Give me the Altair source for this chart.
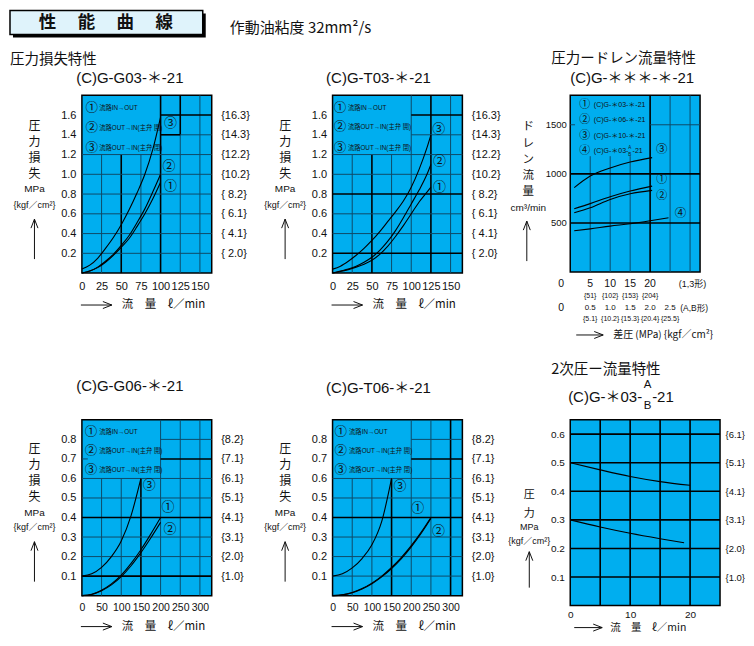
import altair as alt
import pandas as pd

FONT = "Liberation Sans, Noto Sans CJK JP, sans-serif"
JFONT = "Noto Sans CJK JP, Liberation Sans, sans-serif"
BLUE = "#00AEEF"
THIN = "#0e4a68"
BOLD = "#000000"
INK = "#111111"

# ---------------- data ----------------
GG03_Q = [0, 10, 20, 30, 40, 50, 60, 70, 80, 90, 100]
GG03_P1 = [0.0, 0.02, 0.055, 0.11, 0.18, 0.26, 0.35, 0.47, 0.60, 0.75, 0.92]
GG03_P2 = [0.0, 0.02, 0.06, 0.12, 0.19, 0.28, 0.38, 0.51, 0.65, 0.82, 1.00]
GG03_P3 = [0.04, 0.08, 0.15, 0.25, 0.36, 0.49, 0.64, 0.81, 1.00, 1.25, 1.58]

GT03_Q = [0, 10, 20, 30, 40, 50, 60, 70, 80, 90, 100, 110, 120, 125]
GT03_P1 = [0.0, 0.015, 0.035, 0.06, 0.09, 0.13, 0.19, 0.27, 0.37, 0.48, 0.60, 0.72, 0.82, 0.87]
GT03_P2 = [0.0, 0.02, 0.04, 0.07, 0.11, 0.16, 0.23, 0.32, 0.43, 0.56, 0.70, 0.84, 1.00, 1.10]
GT03_P3 = [0.04, 0.07, 0.12, 0.18, 0.25, 0.33, 0.42, 0.52, 0.62, 0.73, 0.87, 1.05, 1.27, 1.40]

DRAIN_DP = [1, 5, 10, 15, 20.5]
DRAIN_1 = [645, 697, 767, 825, 875]
DRAIN_2 = [605, 655, 740, 797, 832]
DRAIN_3 = [860, 978, 1060, 1120, 1165]
DRAIN_4_DP = [1, 5, 10, 15, 20, 24.6]
DRAIN_4 = [420, 440, 468, 492, 522, 553]

GG06_Q3 = [0, 25, 50, 75, 100, 125, 150]
GG06_P3 = [0.10, 0.112, 0.145, 0.20, 0.28, 0.41, 0.60]
GG06_Q = [0, 25, 50, 75, 100, 125, 150, 175, 200]
GG06_P1 = [0.0, 0.007, 0.028, 0.06, 0.105, 0.165, 0.235, 0.315, 0.40]
GG06_P2 = [0.0, 0.006, 0.025, 0.055, 0.097, 0.153, 0.22, 0.295, 0.375]

GT06_Q3 = [0, 25, 50, 75, 100, 125, 150]
GT06_P3 = [0.10, 0.112, 0.142, 0.19, 0.26, 0.38, 0.60]
GT06_Q = [0, 25, 50, 75, 100, 125, 150, 175, 200, 225, 250]
GT06_P1 = [0.0, 0.004, 0.016, 0.036, 0.064, 0.10, 0.144, 0.196, 0.256, 0.324, 0.40]
GT06_P2 = [0.0, 0.004, 0.015, 0.034, 0.061, 0.096, 0.139, 0.19, 0.25, 0.318, 0.395]

SEC_Q_HI = [0, 5, 10, 15, 20]
SEC_P_HI = [0.50, 0.475, 0.452, 0.434, 0.421]
SEC_Q_LO = [0, 5, 10, 15, 19]
SEC_P_LO = [0.30, 0.275, 0.253, 0.234, 0.22]

# tick labels
LOSS03_X = [0, 25, 50, 75, 100, 125, 150]
LOSS03_Y = [0.2, 0.4, 0.6, 0.8, 1.0, 1.2, 1.4, 1.6]
LOSS03_KGF = ["{ 2.0}", "{ 4.1}", "{ 6.1}", "{ 8.2}", "{10.2}", "{12.2}", "{14.3}", "{16.3}"]
LOSS06_X = [0, 50, 100, 150, 200, 250, 300]
LOSS06_Y = [0.1, 0.2, 0.3, 0.4, 0.5, 0.6, 0.7, 0.8]
LOSS06_KGF = ["{1.0}", "{2.0}", "{3.1}", "{4.1}", "{5.1}", "{6.1}", "{7.1}", "{8.2}"]
DRAIN_Y = [500, 1000, 1500]
DRAIN_ROW1_X = [5, 10, 15, 20]
DRAIN_ROW1 = ["5", "10", "15", "20"]
DRAIN_ROW2 = ["{51}", "{102}", "{153}", "{204}"]
DRAIN_ROW3_X = [5, 10, 15, 20, 25]
DRAIN_ROW3 = ["0.5", "1.0", "1.5", "2.0", "2.5"]
DRAIN_ROW4 = ["{5.1}", "{10.2}", "{15.3}", "{20.4}", "{25.5}"]
SEC_X = [0, 10, 20]
SEC_Y = [0.1, 0.2, 0.3, 0.4, 0.5, 0.6]
SEC_KGF = ["{1.0}", "{2.0}", "{3.1}", "{4.1}", "{5.1}", "{6.1}"]

LOSS_LEGEND = ["流路IN→OUT", "流路OUT→IN(主弁 開)", "流路OUT→IN(主弁 閉)"]
DRAIN_LEGEND = ["(C)G-＊03-＊-21", "(C)G-＊06-＊-21", "(C)G-＊10-＊-21", "(C)G-＊03-"]
CIRCLED = ["①", "②", "③", "④"]

ONE = pd.DataFrame({"k": [0]})
NB6 = "\u00a0" * 6


# ---------------- helpers ----------------
def dtext(s, x, y, size, align="center", weight="normal", font=FONT):
    return alt.Chart(ONE).mark_text(
        align=align, baseline="middle", fontSize=size, font=font,
        fontWeight=weight, color=INK
    ).encode(x=alt.value(x), y=alt.value(y), text=alt.value(s))


def seg(x0, y0, x1, y1, w=1.0):
    return alt.Chart(ONE).mark_rule(color=INK, strokeWidth=w).encode(
        x=alt.value(x0), y=alt.value(y0), x2=alt.value(x1), y2=alt.value(y1)
    )


def harrow(x0, x1, y):
    return [seg(x0, y, x1, y), seg(x1 - 9, y - 3.5, x1, y), seg(x1 - 9, y + 3.5, x1, y)]


def varrow(x, y0, y1):
    return [seg(x, y0, x, y1), seg(x - 3.5, y0 + 9, x, y0), seg(x + 3.5, y0 + 9, x, y0)]


def grid_df(rows):
    return pd.DataFrame([
        {"v": v, "a": a, "b": b, "col": BOLD if k else THIN, "sw": 1.6 if k else 1.0}
        for v, a, b, k in rows
    ])


def curves_df(series):
    rows = []
    for name, qs, ps in series:
        for q, p in zip(qs, ps):
            rows.append({"c": name, "q": q, "p": p})
    return pd.DataFrame(rows)


def zero_x_axis(values, size, pad):
    return alt.Axis(
        values=values, title=None, ticks=False, domain=False, grid=False,
        labelPadding=pad, labelFont=FONT, labelFontSize=size, labelColor=INK,
        labelFlush=False, labelOverlap=False, labelAlign="center",
        labelExpr="datum.value == 0 ? '0" + NB6 + "' : datum.label",
    )


def left_y_axis(values, size, pad, fmt):
    return alt.Axis(
        values=values, title=None, ticks=False, domain=False, grid=False, format=fmt,
        labelPadding=pad, labelFont=FONT, labelFontSize=size, labelColor=INK, labelOverlap=False,
    )


def right_y_axis(values, labels, step, size, pad):
    arr = "[" + ",".join("'" + s + "'" for s in labels) + "]"
    return alt.Axis(
        orient="right", values=values, title=None, ticks=False, domain=False, grid=False,
        labelPadding=pad, labelFont=FONT, labelFontSize=size, labelColor=INK, labelAlign="left",
        labelOverlap=False,
        labelExpr=arr + "[round(datum.value / " + str(step) + ") - 1]",
    )


def make_panel(w, h, xdom, ydom, series, vgrid, hgrid, xaxis, yaxis, raxis,
               circ=None, legend=None, extra=None):
    xs = alt.Scale(domain=xdom, nice=False, zero=False)
    ys = alt.Scale(domain=ydom, nice=False, zero=False)
    layers = [
        alt.Chart(grid_df(vgrid)).mark_rule().encode(
            x=alt.X("v:Q", scale=xs, axis=None),
            y=alt.Y("a:Q", scale=ys, axis=None), y2=alt.Y2("b"),
            color=alt.Color("col:N", scale=None),
            strokeWidth=alt.StrokeWidth("sw:Q", scale=None)),
        alt.Chart(grid_df(hgrid)).mark_rule().encode(
            y=alt.Y("v:Q", scale=ys, axis=raxis),
            x=alt.X("a:Q", scale=xs, axis=None), x2=alt.X2("b"),
            color=alt.Color("col:N", scale=None),
            strokeWidth=alt.StrokeWidth("sw:Q", scale=None)),
        alt.Chart(curves_df(series)).mark_line(
            color="black", strokeWidth=1.1, interpolate="monotone").encode(
            x=alt.X("q:Q", scale=xs, axis=xaxis),
            y=alt.Y("p:Q", scale=ys, axis=yaxis), detail="c:N"),
    ]
    if circ is not None:
        layers.append(alt.Chart(circ).mark_text(
            align="center", baseline="middle", font=JFONT, color=INK).encode(
            x=alt.X("x:Q", scale=xs, axis=None), y=alt.Y("y:Q", scale=ys, axis=None),
            text="t:N", size=alt.Size("s:Q", scale=None)))
    if legend is not None:
        layers.append(alt.Chart(legend).mark_text(
            align="left", baseline="middle", font=FONT, color=INK).encode(
            x=alt.X("x:Q", scale=xs, axis=None), y=alt.Y("y:Q", scale=ys, axis=None),
            text="t:N", size=alt.Size("s:Q", scale=None)))
    if extra:
        for e in extra:
            layers.append(e(xs, ys))
    return layers, (w, h)


def finish(layers, wh, decor):
    w, h = wh
    return alt.layer(*(layers + decor)).resolve_axis(
        x="independent", y="independent").properties(
        width=w, height=h,
        view=alt.ViewBackground(fill=BLUE, stroke="black", strokeWidth=1.5))


def label_frames(circ_pts, leg_pts, leg_size):
    c = pd.DataFrame([{"x": x, "y": y, "t": t, "s": s} for x, y, t, s in circ_pts])
    l = pd.DataFrame([{"x": x, "y": y, "t": t, "s": leg_size} for x, y, t in leg_pts])
    return c, l


def loss_decor(title, tx, ty, ys, ay, h, xdy):
    d = [dtext(title, tx, ty, 15)]
    for ch, y in zip("圧力損失", ys[:4]):
        d.append(dtext(ch, -47.5, y, 12, font=JFONT))
    d.append(dtext("MPa", -47.5, ys[4], 10))
    d.append(dtext("{kgf／cm²}", -47.5, ys[5], 9))
    d += varrow(-47.5, ay, ay + 40)
    d += harrow(-1, 30, h + xdy)
    d.append(dtext("流　量　ℓ／min", 40, h + xdy, 11.5, align="left", font=JFONT))
    return d


# ---------------- panel A : (C)G-G03 ----------------
A_v = [(25, 0, 1.2, 0), (50, 0, 1.2, 1), (75, 0, 1.2, 0), (100, 0, 1.8, 1),
       (125, 0, 1.4, 0), (125, 1.4, 1.8, 1), (150, 0, 1.8, 0)]
A_h = [(0.2, 0, 165, 0), (0.4, 0, 165, 0), (0.6, 0, 165, 0), (0.8, 0, 165, 0),
       (1.0, 0, 165, 0), (1.2, 0, 165, 0), (1.4, 100, 125, 1), (1.4, 125, 165, 0),
       (1.6, 100, 165, 1)]
cA, lA = label_frames(
    [(12.5, 1.67, CIRCLED[0], 12.5), (12.5, 1.47, CIRCLED[1], 12.5), (12.5, 1.265, CIRCLED[2], 12.5),
     (112.7, 1.515, CIRCLED[2], 13), (110.7, 1.087, CIRCLED[1], 13), (112.7, 0.88, CIRCLED[0], 13)],
    [(22, 1.67, LOSS_LEGEND[0]), (22, 1.47, LOSS_LEGEND[1]), (22, 1.265, LOSS_LEGEND[2])], 6.3)
layA, whA = make_panel(
    130, 178, [0, 165], [0, 1.8],
    [("1", GG03_Q, GG03_P1), ("2", GG03_Q, GG03_P2), ("3", GG03_Q, GG03_P3)],
    A_v, A_h, zero_x_axis(LOSS03_X, 11, 7), left_y_axis(LOSS03_Y, 11, 6, ".1f"),
    right_y_axis(LOSS03_Y, LOSS03_KGF, 0.2, 11, 9), cA, lA)
decA = [
    alt.Chart(ONE).mark_rect(color="black").encode(
        x=alt.value(-69), x2=alt.value(124), y=alt.value(-82), y2=alt.value(-58)),
    alt.Chart(ONE).mark_rect(fill="#dff3fb", stroke="black", strokeWidth=1.5).encode(
        x=alt.value(-72), x2=alt.value(121), y=alt.value(-85), y2=alt.value(-61)),
    dtext("性　 能　 曲　 線", 24, -72.5, 17.5, weight="bold", font=JFONT),
    dtext("作動油粘度 32mm²/s", 148, -67, 15, align="left", font=JFONT),
    dtext("圧力損失特性", -72, -35, 14.5, align="left", font=JFONT),
] + loss_decor("(C)G-G03-＊-21", 48, -17, [31, 47, 63, 79, 94, 110], 124, 178, 32)
A = finish(layA, whA, decA)

# ---------------- panel B : (C)G-T03 ----------------
B_v = [(25, 0, 1.2, 0), (50, 0, 1.2, 1), (75, 0, 1.2, 0), (100, 0, 1.8, 0),
       (125, 0, 1.8, 1), (150, 0, 1.8, 0)]
B_h = [(0.2, 0, 165, 1), (0.4, 0, 165, 0), (0.6, 0, 165, 0), (0.8, 0, 165, 1),
       (1.0, 0, 165, 0), (1.2, 0, 165, 0), (1.4, 100, 165, 0), (1.6, 100, 165, 1)]
cB, lB = label_frames(
    [(9.5, 1.67, CIRCLED[0], 12.5), (9.5, 1.48, CIRCLED[1], 12.5), (9.5, 1.27, CIRCLED[2], 12.5),
     (135, 1.46, CIRCLED[2], 13), (136, 1.13, CIRCLED[1], 13), (136, 0.875, CIRCLED[0], 13)],
    [(19.5, 1.67, LOSS_LEGEND[0]), (19.5, 1.48, LOSS_LEGEND[1]), (19.5, 1.27, LOSS_LEGEND[2])], 6.3)
layB, whB = make_panel(
    130, 178, [0, 165], [0, 1.8],
    [("1", GT03_Q, GT03_P1), ("2", GT03_Q, GT03_P2), ("3", GT03_Q, GT03_P3)],
    B_v, B_h, zero_x_axis(LOSS03_X, 11, 7), left_y_axis(LOSS03_Y, 11, 6, ".1f"),
    right_y_axis(LOSS03_Y, LOSS03_KGF, 0.2, 11, 9), cB, lB)
B = finish(layB, whB, loss_decor("(C)G-T03-＊-21", 46, -17, [31, 47, 63, 79, 94, 110], 124, 178, 32))

# ---------------- panel C : drain flow ----------------
C_v = [(5, 0, 1180, 0), (10, 0, 1180, 0), (15, 0, 1180, 0), (20, 0, 1800, 1),
       (25, 0, 1800, 0), (30, 0, 1800, 0)]
C_h = [(500, 0, 32.5, 1), (1000, 0, 32.5, 1), (1500, 20, 32.5, 0), (1500, 0, 1.2, 0)]
cC, lC = label_frames(
    [(3.6, 1703, CIRCLED[0], 11), (3.6, 1545, CIRCLED[1], 11), (3.6, 1388, CIRCLED[2], 11),
     (3.6, 1230, CIRCLED[3], 11),
     (22.9, 1240, CIRCLED[2], 11.5), (22.9, 935, CIRCLED[0], 11), (22.9, 775, CIRCLED[1], 11),
     (27.6, 587, CIRCLED[3], 11.5)],
    [(5.9, 1703, DRAIN_LEGEND[0]), (5.9, 1545, DRAIN_LEGEND[1]), (5.9, 1388, DRAIN_LEGEND[2]),
     (5.9, 1230, DRAIN_LEGEND[3]), (15.6, 1230, "-21")], 7)


def ab_stack(xs, ys):
    df = pd.DataFrame({"x": [14.9, 14.9], "y": [1268, 1192], "t": ["A", "B"]})
    return alt.Chart(df).mark_text(fontSize=4.5, font=FONT, color=INK, baseline="middle").encode(
        x=alt.X("x:Q", scale=xs, axis=None), y=alt.Y("y:Q", scale=ys, axis=None), text="t:N")


def row_layer(xs_vals, texts, ypx, size):
    def f(xs, ys):
        df = pd.DataFrame({"x": xs_vals, "t": texts})
        return alt.Chart(df).mark_text(fontSize=size, font=FONT, color=INK, baseline="middle").encode(
            x=alt.X("x:Q", scale=xs, axis=None), y=alt.value(ypx), text="t:N")
    return f


def zero_layer(ypx, size):
    def f(xs, ys):
        df = pd.DataFrame({"x": [0], "t": ["0"]})
        return alt.Chart(df).mark_text(fontSize=size, font=FONT, color=INK, baseline="middle",
                                       dx=-9).encode(
            x=alt.X("x:Q", scale=xs, axis=None), y=alt.value(ypx), text="t:N")
    return f


layC, whC = make_panel(
    130, 177, [0, 32.5], [0, 1800],
    [("1", DRAIN_DP, DRAIN_1), ("2", DRAIN_DP, DRAIN_2), ("3", DRAIN_DP, DRAIN_3),
     ("4", DRAIN_4_DP, DRAIN_4)],
    C_v, C_h, None, left_y_axis(DRAIN_Y, 9.5, 4, "d"), None, cC, lC,
    extra=[ab_stack,
           row_layer(DRAIN_ROW1_X, DRAIN_ROW1, 189, 10.5), zero_layer(189, 10.5),
           row_layer([30.6], ["(1,3形)"], 189, 9),
           row_layer(DRAIN_ROW1_X, DRAIN_ROW2, 201, 7),
           row_layer(DRAIN_ROW3_X, DRAIN_ROW3, 213, 8), zero_layer(213, 10.5),
           row_layer([31], ["(A,B形)"], 213, 8.5),
           row_layer(DRAIN_ROW3_X, DRAIN_ROW4, 223.5, 7)])
decC = [
    dtext("圧力ードレン流量特性", -19, -36, 14.5, align="left", font=JFONT),
    dtext("(C)G-＊＊＊-＊-21", 62, -17, 15),
]
for ch, y in zip("ドレン流量", [32, 49, 65, 81, 97]):
    decC.append(dtext(ch, -42, y, 11.5, font=JFONT))
decC.append(dtext("cm³/min", -42, 113, 10))
decC += varrow(-43.5, 126, 166)
decC += harrow(6, 33, 240)
decC.append(dtext("差圧 (MPa) {kgf／cm²}", 43, 240, 10, align="left", font=JFONT))
C = finish(layC, whC, decC)

# ---------------- panel D : (C)G-G06 ----------------
D_v = [(50, 0, 0.6, 0), (100, 0, 0.6, 0), (150, 0, 0.6, 1), (200, 0, 0.9, 0),
       (250, 0, 0.9, 0), (300, 0, 0.9, 0)]
D_h = [(0.1, 0, 330, 1), (0.2, 0, 330, 0), (0.3, 0, 330, 0), (0.4, 0, 330, 1),
       (0.5, 0, 330, 0), (0.6, 0, 330, 0), (0.7, 200, 330, 1), (0.8, 200, 330, 0),
       (0.7, 0, 15, 0)]
cD, lD = label_frames(
    [(22.8, 0.84, CIRCLED[0], 12.5), (22.8, 0.742, CIRCLED[1], 12.5), (22.8, 0.644, CIRCLED[2], 12.5),
     (171, 0.569, CIRCLED[2], 13), (219, 0.455, CIRCLED[0], 13), (224, 0.339, CIRCLED[1], 13)],
    [(44, 0.84, LOSS_LEGEND[0]), (44, 0.742, LOSS_LEGEND[1]), (44, 0.644, LOSS_LEGEND[2])], 6.3)
layD, whD = make_panel(
    130, 176, [0, 330], [0, 0.9],
    [("1", GG06_Q, GG06_P1), ("2", GG06_Q, GG06_P2), ("3", GG06_Q3, GG06_P3)],
    D_v, D_h, zero_x_axis(LOSS06_X, 10.5, 7), left_y_axis(LOSS06_Y, 11, 6, ".1f"),
    right_y_axis(LOSS06_Y, LOSS06_KGF, 0.1, 11, 9), cD, lD)
D = finish(layD, whD, loss_decor("(C)G-G06-＊-21", 48, -34, [29.5, 45.5, 61.5, 77, 93, 107.5], 122, 176, 31))

# ---------------- panel E : (C)G-T06 ----------------
E_v = [(50, 0, 0.6, 0), (100, 0, 0.6, 0), (150, 0, 0.6, 1), (200, 0, 0.9, 0),
       (250, 0, 0.9, 0), (300, 0, 0.9, 1)]
E_h = [(0.1, 0, 330, 0), (0.2, 0, 330, 0), (0.3, 0, 330, 0), (0.4, 0, 330, 1),
       (0.5, 0, 330, 0), (0.6, 0, 330, 0), (0.7, 200, 330, 1), (0.8, 200, 330, 0)]
cE, lE = label_frames(
    [(21, 0.836, CIRCLED[0], 12.5), (21, 0.739, CIRCLED[1], 12.5), (21, 0.641, CIRCLED[2], 12.5),
     (171.6, 0.562, CIRCLED[2], 13), (216.5, 0.448, CIRCLED[0], 13), (269, 0.33, CIRCLED[1], 13)],
    [(42, 0.836, LOSS_LEGEND[0]), (42, 0.739, LOSS_LEGEND[1]), (42, 0.641, LOSS_LEGEND[2])], 6.3)
layE, whE = make_panel(
    130, 176, [0, 330], [0, 0.9],
    [("1", GT06_Q, GT06_P1), ("2", GT06_Q, GT06_P2), ("3", GT06_Q3, GT06_P3)],
    E_v, E_h, zero_x_axis(LOSS06_X, 10.5, 7), left_y_axis(LOSS06_Y, 11, 6, ".1f"),
    right_y_axis(LOSS06_Y, LOSS06_KGF, 0.1, 11, 9), cE, lE)
E = finish(layE, whE, loss_decor("(C)G-T06-＊-21", 46, -32, [29.5, 45.5, 61.5, 77, 93, 107.5], 122, 176, 31))

# ---------------- panel F : secondary pressure ----------------
F_v = [(5, 0, 0.65, 1), (10, 0, 0.65, 1), (15, 0, 0.65, 1), (20, 0, 0.65, 1)]
F_h = [(v, 0, 25, 1) for v in SEC_Y]
layF, whF = make_panel(
    150, 186, [0, 25], [0, 0.65],
    [("hi", SEC_Q_HI, SEC_P_HI), ("lo", SEC_Q_LO, SEC_P_LO)],
    F_v, F_h, zero_x_axis(SEC_X, 10, 4), left_y_axis(SEC_Y, 10, 6, ".1f"),
    right_y_axis(SEC_Y, SEC_KGF, 0.1, 9.5, 5))
decF = [
    dtext("2次圧ー流量特性", -19, -50, 14.5, align="left", font=JFONT),
    dtext("(C)G-＊03-", 72, -23, 15, align="right"),
    dtext("A", 77.5, -34.5, 11.5),
    dtext("B", 77.5, -13.5, 11.5),
    dtext("-21", 82, -23, 15, align="left"),
    dtext("圧", -41, 75, 11, font=JFONT),
    dtext("力", -41, 94, 11, font=JFONT),
    dtext("MPa", -41, 107, 9),
    dtext("{kgf／cm²}", -41, 121, 9),
] + varrow(-41, 132, 168) + harrow(4, 32, 208) + [
    dtext("流　量　ℓ／min", 40, 208, 10.5, align="left", font=JFONT)]
F = finish(layF, whF, decF)


def spacer(w):
    return alt.Chart(ONE).mark_point(opacity=0).encode(
        x=alt.value(0), y=alt.value(0)).properties(width=w, height=10)


chart = alt.concat(
    A, spacer(121), B, spacer(108), C,
    D, spacer(121), E, spacer(108), F,
    columns=5, bounds="flush", align="each",
    spacing={"row": 147, "column": 0},
).properties(padding=0, background="white").configure_view(strokeWidth=0)

chart.save("out.html", embed_options={"renderer": "svg", "actions": False})
